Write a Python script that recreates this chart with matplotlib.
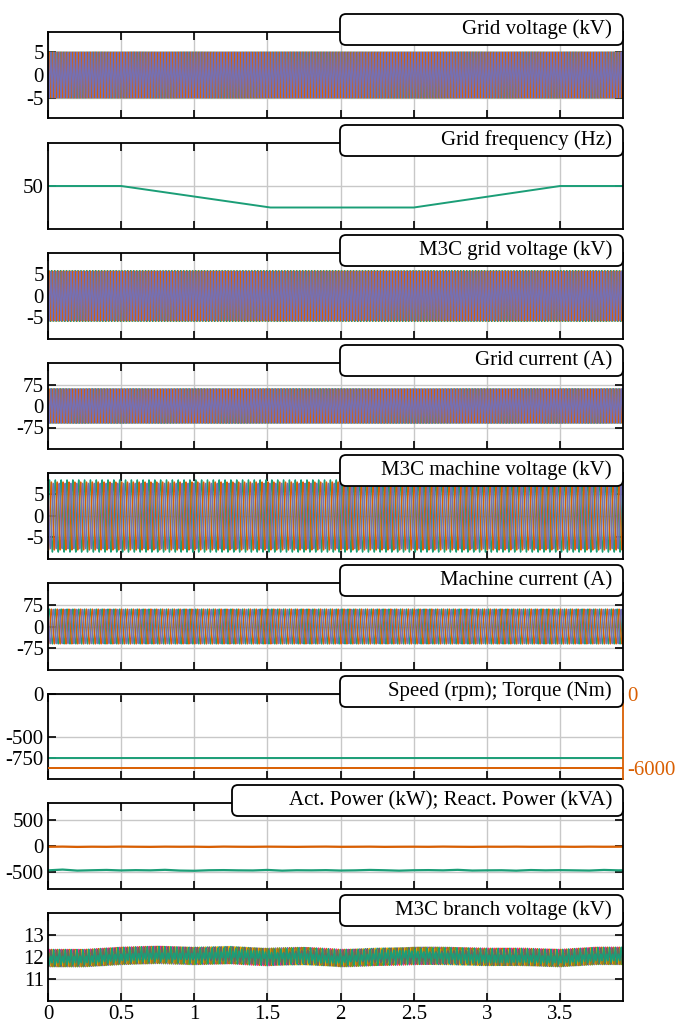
import numpy as np
import matplotlib
matplotlib.use('Agg')
import matplotlib.pyplot as plt
from matplotlib.patches import FancyBboxPatch

plt.rcParams['font.family'] = ['Liberation Serif', 'DejaVu Serif']
plt.rcParams['axes.unicode_minus'] = False
plt.rcParams['font.size'] = 15

# colours (Dark2)
GREEN = '#1b9e77'
ORANGE = '#d95f02'
PURPLE = '#7570b3'
DARK2 = ['#1b9e77', '#d95f02', '#7570b3', '#e7298a', '#66a61e',
         '#e6ab02', '#a6761d', '#666666']

# ---- data ----
t_end = 3.93
x_ticks = [0, 0.5, 1, 1.5, 2, 2.5, 3, 3.5]
x_tick_labels = ['0', '0.5', '1', '1.5', '2', '2.5', '3', '3.5']

# grid frequency profile (Hz)
freq_t = [0, 0.5, 1.52, 2.5, 3.5, 3.93]
freq_hz = [50, 50, 49, 49, 50, 50]

# peak values of the three-phase bands (green, orange, purple)
grid_v_amp = [5.0, 5.0, 5.0]
m3c_grid_v_amp = [5.9, 5.8, 5.7]
grid_i_amp = [60, 59, 60]
mach_v_amp = [8.4, 7.9, 7.6]
mach_i_amp = [60, 60, 59]
mach_freq = 25.0

# speed (rpm) and torque (Nm)
speed_rpm = [-750, -750]
torque_nm = [-6000, -6000]
const_t = [0, t_end]

# active (kW) / reactive (kVA) power, every 0.1 s
power_t = [0.0, 0.1, 0.2, 0.3, 0.4, 0.5, 0.6, 0.7, 0.8, 0.9, 1.0, 1.1, 1.2, 1.3,
           1.4, 1.5, 1.6, 1.7, 1.8, 1.9, 2.0, 2.1, 2.2, 2.3, 2.4, 2.5, 2.6, 2.7,
           2.8, 2.9, 3.0, 3.1, 3.2, 3.3, 3.4, 3.5, 3.6, 3.7, 3.8, 3.9, 3.93]
act_power = [-470, -455, -475, -468, -462, -472, -466, -470, -460, -474, -478,
             -468, -465, -470, -472, -462, -476, -468, -470, -466, -474, -470,
             -462, -468, -476, -468, -465, -470, -460, -474, -470, -468, -476,
             -464, -470, -466, -470, -474, -462, -470, -468]
react_power = [-15, -12, -18, -14, -16, -12, -15, -17, -13, -15, -14, -18, -12,
               -15, -16, -13, -15, -17, -14, -12, -16, -15, -13, -17, -15, -14,
               -16, -12, -15, -17, -14, -15, -13, -16, -15, -14, -16, -13, -15,
               -14, -12]

# M3C branch voltage (kV): band centre and half width
branch_t = [0, 0.25, 0.5, 0.75, 1.0, 1.25, 1.5, 1.75, 2.0, 2.25, 2.5, 2.75,
            3.0, 3.25, 3.5, 3.75, 3.93]
branch_mean = [11.95, 11.95, 12.05, 12.1, 12.05, 12.08, 12.0, 12.05, 11.95,
               12.0, 12.05, 12.05, 12.0, 12.0, 11.95, 12.05, 12.05]
branch_ripple = 0.4

labels = ['Grid voltage (kV)', 'Grid frequency (Hz)', 'M3C grid voltage (kV)',
          'Grid current (A)', 'M3C machine voltage (kV)', 'Machine current (A)',
          'Speed (rpm); Torque (Nm)', 'Act. Power (kW); React. Power (kVA)',
          'M3C branch voltage (kV)']
y_ticks = [[-5, 0, 5], [50], [-5, 0, 5], [-75, 0, 75], [-5, 0, 5],
           [-75, 0, 75], [-750, -500, 0], [-500, 0, 500], [11, 12, 13]]
y_lims = [(-9.4, 9.4), (48, 52), (-10, 10), (-150, 150), (-10, 10),
          (-150, 150), (-1000, 0), (-830, 830), (10, 14)]

# ---- layout (pixels) ----
W, H = 677, 1023
tops = [32, 143, 253, 363, 473, 583, 694, 803, 913]
bots = [118, 229, 339, 449, 559, 670, 779, 889, 1001]
left_px, right_px = 48, 623
box_left = [340, 340, 340, 340, 340, 340, 340, 232, 340]

fig = plt.figure(figsize=(W / 100, H / 100), dpi=100)

# carriers
t = np.linspace(0, t_end, 16000)
f_grid = np.interp(t, freq_t, freq_hz)
th_grid = 2 * np.pi * np.concatenate([[0], np.cumsum(f_grid[1:] * np.diff(t))])
th_mach = 2 * np.pi * mach_freq * t
shifts = [0, -2 * np.pi / 3, 2 * np.pi / 3]


def three_phase(ax, theta, amps):
    for k, c in enumerate([GREEN, ORANGE, PURPLE]):
        ax.plot(t, amps[k] * np.sin(theta + shifts[k]), color=c, lw=1.0)


axes = []
for i in range(9):
    ax = fig.add_axes([left_px / W, 1 - bots[i] / H,
                       (right_px - left_px) / W, (bots[i] - tops[i]) / H])
    axes.append(ax)

three_phase(axes[0], th_grid, grid_v_amp)
axes[1].plot(freq_t, freq_hz, color=GREEN, lw=1.4)
three_phase(axes[2], th_grid, m3c_grid_v_amp)
three_phase(axes[3], th_grid, grid_i_amp)
three_phase(axes[4], th_mach, mach_v_amp)
three_phase(axes[5], th_mach, mach_i_amp)

axes[6].plot(const_t, speed_rpm, color=GREEN, lw=1.4)
ax2 = axes[6].twinx()
ax2.plot(const_t, torque_nm, color=ORANGE, lw=1.4)
ax2.set_ylim(-6900, 0)
ax2.set_yticks([-6000, 0])
ax2.tick_params(axis='y', direction='in', length=5, colors=ORANGE,
                labelsize=15, pad=3)
for s in ['left', 'top', 'bottom']:
    ax2.spines[s].set_visible(False)
ax2.spines['right'].set_color(ORANGE)
ax2.spines['right'].set_linewidth(1.3)

axes[7].plot(power_t, react_power, color=ORANGE, lw=1.6)
axes[7].plot(power_t, act_power, color=GREEN, lw=1.6)

b_mean = np.interp(t, branch_t, branch_mean)
for k in range(9):
    g, m = k // 3, k % 3
    v = (b_mean + 0.6 * branch_ripple * np.sin(th_grid + shifts[g])
         + 0.4 * branch_ripple * np.sin(th_mach + shifts[m]))
    axes[8].plot(t, v, color=DARK2[k % 8], lw=1.0)

for i, ax in enumerate(axes):
    ax.set_xlim(0, t_end)
    ax.set_ylim(*y_lims[i])
    ax.set_xticks(x_ticks)
    ax.set_yticks(y_ticks[i])
    ax.grid(True, color='#c8c8c8', lw=1.0)
    ax.set_axisbelow(True)
    ax.tick_params(direction='in', length=6, width=1.2, top=True,
                   right=(i != 6), labelsize=15, pad=3)
    for s in ax.spines.values():
        s.set_linewidth(1.3)
    if i == 6:
        ax.spines['right'].set_visible(False)
    if i < 8:
        ax.set_xticklabels([])
    else:
        ax.set_xticklabels(x_tick_labels)

    # label box straddling the top spine
    y0 = (H - (tops[i] + 13)) / 100
    box = FancyBboxPatch((box_left[i] / 100, y0), (right_px - box_left[i]) / 100,
                         0.31, boxstyle='round,pad=0,rounding_size=0.06',
                         transform=fig.dpi_scale_trans, facecolor='white',
                         edgecolor='black', lw=1.3, zorder=10)
    fig.patches.append(box)
    fig.text(612 / W, (H - (tops[i] - 2.5)) / H, labels[i], ha='right',
             va='center', fontsize=15, zorder=11)

fig.savefig('out.png', dpi=100)
